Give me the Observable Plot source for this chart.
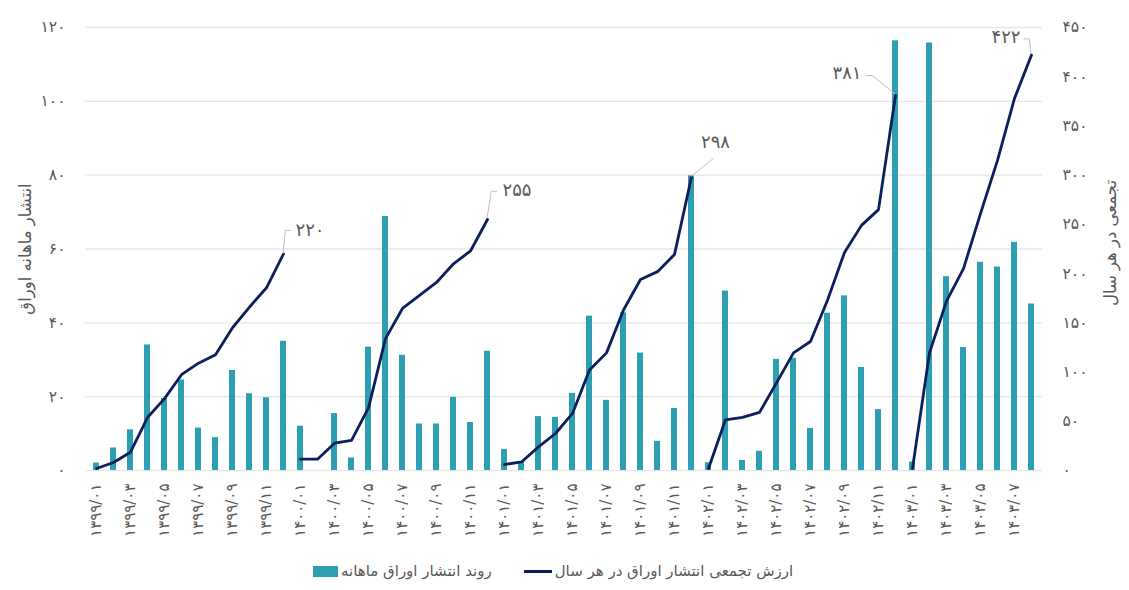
<!DOCTYPE html>
<html><head><meta charset="utf-8">
<script src="https://cdn.jsdelivr.net/npm/d3@7"></script>
<script src="https://cdn.jsdelivr.net/npm/@observablehq/plot@0.6"></script>
<style>
body{margin:0;background:#fff;font-family:"DejaVu Sans",sans-serif;}
#wrap{position:relative;width:1129px;height:590px;overflow:hidden;}
#legend{position:absolute;left:313px;top:562px;display:flex;align-items:center;font-size:15px;color:#595959;white-space:nowrap;}
#legend .sw{display:inline-block;width:25px;height:11px;background:#2e9fb0;margin-right:3px;}
#legend .ln{display:inline-block;width:28px;height:3px;background:#0b1f5c;margin-right:3px;margin-left:32px;}
#legend span.t{direction:rtl;}
</style></head><body>
<div id="wrap"><div id="chart"></div>
<div id="legend"><span class="sw"></span><span class="t">روند انتشار اوراق ماهانه</span><span class="ln"></span><span class="t">ارزش تجمعی انتشار اوراق در هر سال</span></div>
</div>
<script>
const months = [
"۱۳۹۹/۰۱","۱۳۹۹/۰۲","۱۳۹۹/۰۳","۱۳۹۹/۰۴","۱۳۹۹/۰۵","۱۳۹۹/۰۶","۱۳۹۹/۰۷","۱۳۹۹/۰۸","۱۳۹۹/۰۹","۱۳۹۹/۱۰","۱۳۹۹/۱۱","۱۳۹۹/۱۲",
"۱۴۰۰/۰۱","۱۴۰۰/۰۲","۱۴۰۰/۰۳","۱۴۰۰/۰۴","۱۴۰۰/۰۵","۱۴۰۰/۰۶","۱۴۰۰/۰۷","۱۴۰۰/۰۸","۱۴۰۰/۰۹","۱۴۰۰/۱۰","۱۴۰۰/۱۱","۱۴۰۰/۱۲",
"۱۴۰۱/۰۱","۱۴۰۱/۰۲","۱۴۰۱/۰۳","۱۴۰۱/۰۴","۱۴۰۱/۰۵","۱۴۰۱/۰۶","۱۴۰۱/۰۷","۱۴۰۱/۰۸","۱۴۰۱/۰۹","۱۴۰۱/۱۰","۱۴۰۱/۱۱","۱۴۰۱/۱۲",
"۱۴۰۲/۰۱","۱۴۰۲/۰۲","۱۴۰۲/۰۳","۱۴۰۲/۰۴","۱۴۰۲/۰۵","۱۴۰۲/۰۶","۱۴۰۲/۰۷","۱۴۰۲/۰۸","۱۴۰۲/۰۹","۱۴۰۲/۱۰","۱۴۰۲/۱۱","۱۴۰۲/۱۲",
"۱۴۰۳/۰۱","۱۴۰۳/۰۲","۱۴۰۳/۰۳","۱۴۰۳/۰۴","۱۴۰۳/۰۵","۱۴۰۳/۰۶","۱۴۰۳/۰۷","۱۴۰۳/۰۸"];

// monthly issuance (left axis)
const monthlyIssuance = [
2, 6.1, 11, 34, 19.5, 24.5, 11.5, 8.9, 27.1, 20.8, 19.7, 35,
12, 0, 15.4, 3.4, 33.4, 68.8, 31.2, 12.6, 12.6, 19.8, 13, 32.3,
5.7, 2.3, 14.6, 14.4, 20.9, 41.8, 19, 42.7, 31.8, 7.9, 16.8, 79.8,
2.1, 48.6, 2.7, 5.2, 30.1, 30.4, 11.4, 42.6, 47.3, 27.9, 16.5, 116.4,
2.3, 115.8, 52.5, 33.3, 56.4, 55.1, 61.8, 45.1];

// cumulative value in each year (right axis)
const yearlyCumulative = [
2, 8.1, 18.6, 53.8, 73, 97.3, 109, 117.5, 145, 166, 185.6, 220,
11.5, 11.5, 27.7, 30.5, 63.6, 134, 164.6, 178, 191, 210, 223, 255,
6.1, 8.7, 24, 37.6, 58, 102, 119.5, 163, 194, 202, 219.5, 298,
2, 51.5, 54, 59, 89, 119.5, 131, 173, 221.5, 249, 265, 381,
2, 119.5, 172, 205, 261, 315, 378, 422];

const xTickLabels = [
"۱۳۹۹/۰۱","۱۳۹۹/۰۳","۱۳۹۹/۰۵","۱۳۹۹/۰۷","۱۳۹۹/۰۹","۱۳۹۹/۱۱",
"۱۴۰۰/۰۱","۱۴۰۰/۰۳","۱۴۰۰/۰۵","۱۴۰۰/۰۷","۱۴۰۰/۰۹","۱۴۰۰/۱۱",
"۱۴۰۱/۰۱","۱۴۰۱/۰۳","۱۴۰۱/۰۵","۱۴۰۱/۰۷","۱۴۰۱/۰۹","۱۴۰۱/۱۱",
"۱۴۰۲/۰۱","۱۴۰۲/۰۳","۱۴۰۲/۰۵","۱۴۰۲/۰۷","۱۴۰۲/۰۹","۱۴۰۲/۱۱",
"۱۴۰۳/۰۱","۱۴۰۳/۰۳","۱۴۰۳/۰۵","۱۴۰۳/۰۷"];
const leftTicks = [0, 20, 40, 60, 80, 100, 120];
const rightTicks = [0, 50, 100, 150, 200, 250, 300, 350, 400, 450];

const yearEndMonths = ["۱۳۹۹/۱۲","۱۴۰۰/۱۲","۱۴۰۱/۱۲","۱۴۰۲/۱۲","۱۴۰۳/۰۸"];
const yearTotals = [220, 255, 298, 381, 422];
const yearTotalLabels = ["۲۲۰","۲۵۵","۲۹۸","۳۸۱","۴۲۲"];

const leftTitle = "انتشار ماهانه اوراق";
const rightTitle = "تجمعی در هر سال";

const LEFT_MAX = 120, RIGHT_MAX = 450;
const toLeft = v => v * LEFT_MAX / RIGHT_MAX;
const fa = s => String(s).replace(/\d/g, d => "۰۱۲۳۴۵۶۷۸۹"[d]);

const barData = months.map((m, i) => ({month: m, value: monthlyIssuance[i]}));
const lineData = months.map((m, i) => ({month: m, year: m.slice(0, 4), value: toLeft(yearlyCumulative[i])}));
const annData = yearEndMonths.map((m, i) => ({month: m, value: toLeft(yearTotals[i]), label: yearTotalLabels[i]}));

const annStyle = [
  {dx: 12, dy: -24, textAnchor: "start", leader: [[0,0],[2.3,-23],[8.3,-23]]},
  {dx: 15, dy: -29, textAnchor: "start", leader: [[0,-1],[4.3,-27.7],[10,-27.7]]},
  {dx: 24, dy: -35, textAnchor: "middle", leader: [[0,0],[22.7,-18.5]]},
  {dx: -34, dy: -22, textAnchor: "end", leader: [[0,-1],[-22.7,-19.4],[-29.4,-19.4]]},
  {dx: -11, dy: -18, textAnchor: "end", leader: [[0,-1],[-1.7,-15.7],[-7.4,-15.7]]}
];

const gray = "#595959";
const plot = Plot.plot({
  width: 1129, height: 548,
  marginTop: 27, marginBottom: 78, marginLeft: 85, marginRight: 87,
  style: {fontFamily: "DejaVu Sans, sans-serif", fontSize: "15px", color: gray, background: "#fff", overflow: "visible"},
  x: {type: "band", domain: months, paddingInner: 0.67, paddingOuter: 0.335, axis: null},
  y: {domain: [0, LEFT_MAX], axis: null},
  marks: [
    Plot.ruleY(leftTicks, {stroke: "#e6e6e6", strokeWidth: 1.3}),
    Plot.barY(barData, {x: "month", y: "value", fill: "#2e9fb0"}),
    Plot.line(lineData, {x: "month", y: "value", z: "year", stroke: "#0b1f5c", strokeWidth: 2.8, strokeLinejoin: "round", strokeLinecap: "round"}),
    Plot.axisX(xTickLabels, {tickSize: 0, tickRotate: -90, tickPadding: 13, fontSize: 15, fill: gray, label: null}),
    Plot.axisY(leftTicks, {anchor: "left", tickSize: 0, tickPadding: 20, fontSize: 15.5, fill: gray, tickFormat: fa, label: null}),
    Plot.axisY(rightTicks.map(toLeft), {anchor: "right", tickSize: 0, tickPadding: 20, fontSize: 15.5, fill: gray, tickFormat: d => fa(Math.round(d * RIGHT_MAX / LEFT_MAX)), label: null}),
    ...annData.map((d, i) => Plot.text([d], {x: "month", y: "value", text: "label", dx: annStyle[i].dx, dy: annStyle[i].dy, textAnchor: annStyle[i].textAnchor, fontSize: 18, fill: gray})),
    Plot.text([leftTitle], {frameAnchor: "left", textAnchor: "middle", dx: -60, rotate: -90, fontSize: 16.5, fill: gray}),
    Plot.text([rightTitle], {frameAnchor: "right", textAnchor: "middle", dx: 68, dy: -6, rotate: -90, fontSize: 16.5, fill: gray})
  ]
});
document.getElementById("chart").appendChild(plot);

// leader lines for the yearly totals, positioned through Plot's scales
const sx = plot.scale("x"), sy = plot.scale("y");
const svg = d3.select(plot);
annData.forEach((d, i) => {
  const px = sx.apply(d.month) + sx.bandwidth / 2;
  const py = sy.apply(d.value);
  svg.append("polyline")
    .attr("points", annStyle[i].leader.map(([a, b]) => `${px + a},${py + b}`).join(" "))
    .attr("fill", "none").attr("stroke", "#bfbfbf").attr("stroke-width", 1);
});
</script>
</body></html>
